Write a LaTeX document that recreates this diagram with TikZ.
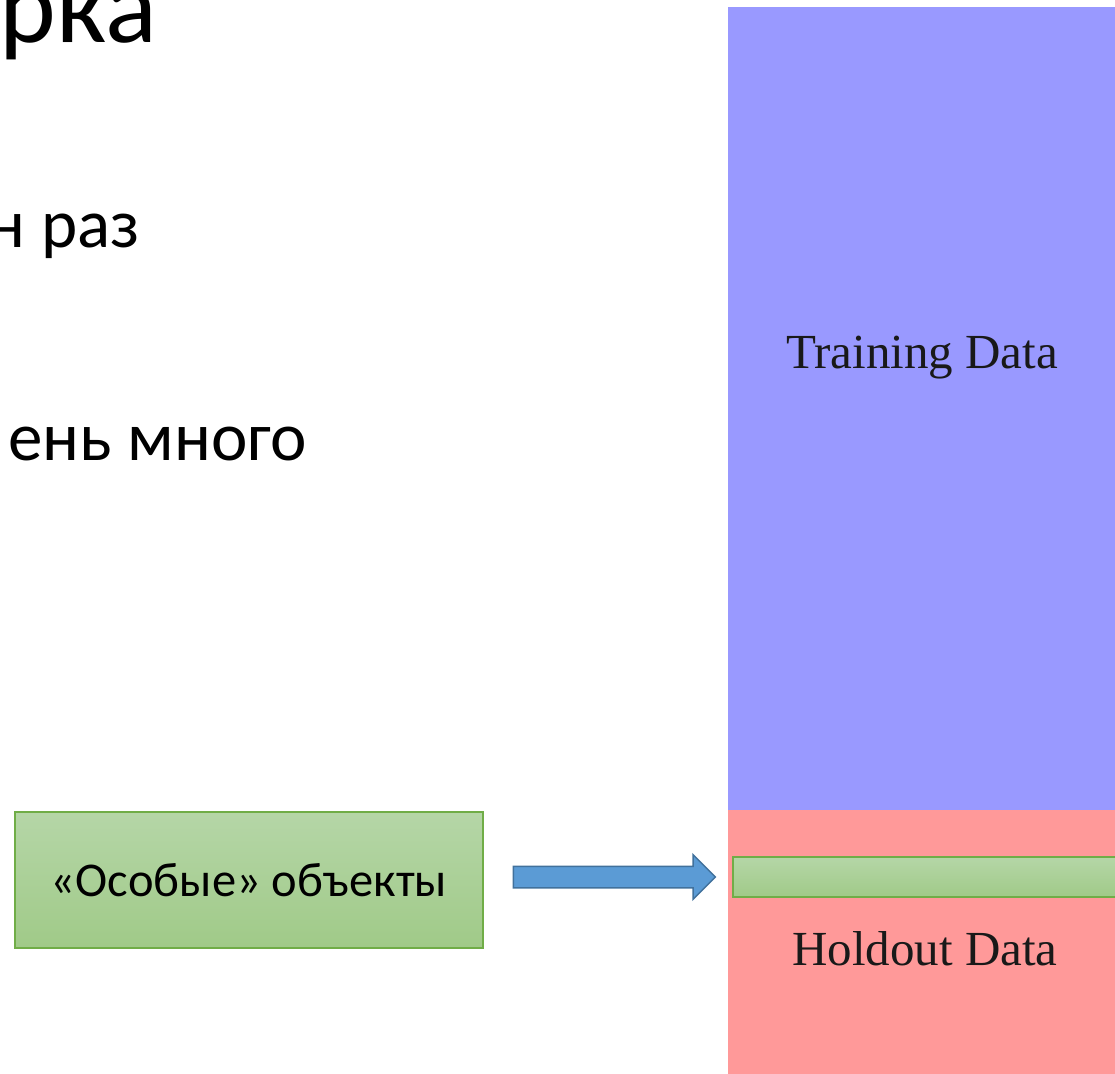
\documentclass[tikz,border=0pt]{standalone}
\usepackage{fontspec}
\setmainfont{Carlito}
\newfontfamily\serifface{Liberation Serif}
\usetikzlibrary{shapes.arrows}
\definecolor{trainblue}{HTML}{9999FF}
\definecolor{holdred}{HTML}{FF9999}
\definecolor{gtop}{HTML}{B5D6A7}
\definecolor{gbot}{HTML}{A0CA88}
\definecolor{gborder}{HTML}{70AD47}
\definecolor{arrfill}{HTML}{5B9BD5}
\definecolor{arrborder}{HTML}{41719C}
\begin{document}
\begin{tikzpicture}[x=1pt,y=-1pt,
  region/.style={inner sep=0pt, outer sep=0pt, anchor=north west, draw=none},
  greenbox/.style={draw=gborder, line width=2.5pt, top color=gtop, bottom color=gbot, inner sep=0pt, outer sep=0pt},
  bigtext/.style={inner sep=0pt, anchor=base east, font=\fontsize{108}{108}\selectfont},
  bodytext/.style={inner sep=0pt, anchor=base east, font=\fontsize{69}{69}\selectfont},
  datalabel/.style={inner sep=0pt, anchor=base, font=\serifface\fontsize{49}{49}\selectfont, text=black!90},
  blockarrow/.style={single arrow, draw=arrborder, line width=1.5pt, fill=arrfill,
    inner xsep=0pt, inner ysep=10pt, minimum height=202pt, single arrow head extend=11.5pt}
]
\useasboundingbox (0,0) rectangle (1115,1073);
\clip (0,0) rectangle (1115,1073);
% title fragments
\node[bigtext] (t1) at (157,42) {рка};
\node[bodytext] (t2) at (140,247) {н раз};
\node[bodytext] (t3) at (307,460) {ень много};
% data regions
\node[region, fill=trainblue, minimum width=400pt, minimum height=803pt] (train) at (728,7) {};
\node[region, fill=holdred, minimum width=400pt, minimum height=280pt] (hold) at (728,810) {};
\node[datalabel] (trainlbl) at (922,368) {Training Data};
\node[datalabel] (holdlbl) at (925,965) {Holdout Data};
% special objects strip
\node[greenbox, anchor=north west, minimum width=420pt, minimum height=40pt] (strip) at (733,857) {};
% source box
\node[greenbox, anchor=north west, minimum width=468pt, minimum height=136pt,
  font=\fontsize{48.5}{48.5}\selectfont] (src) at (15,812) {«Особые» объекты};
% arrow
\node[blockarrow] (arr) at (609,877) {};
\end{tikzpicture}
\end{document}
